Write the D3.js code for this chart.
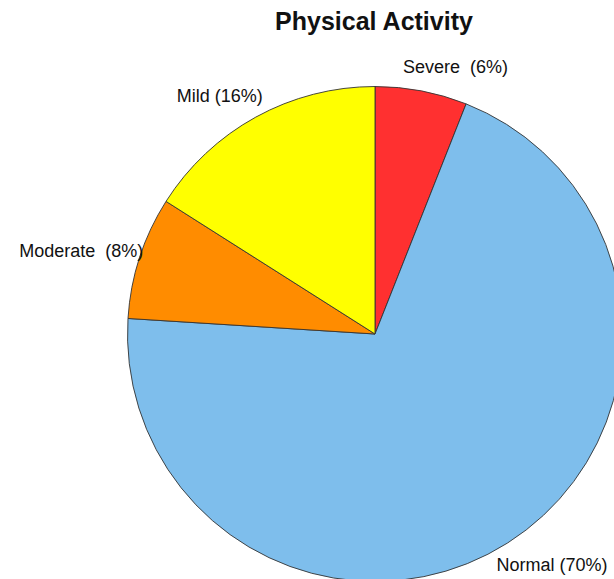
<!DOCTYPE html>
<html>
<head>
<meta charset="utf-8">
<script src="https://cdn.jsdelivr.net/npm/d3@7"></script>
<style>
  html, body { margin: 0; padding: 0; background: #fff; overflow: hidden; }
  svg { display: block; }
  text { font-family: "Liberation Sans", Arial, Helvetica, sans-serif; fill: #111; white-space: pre; }
</style>
</head>
<body>
<svg id="chart" width="614" height="579"></svg>
<script>
// Physical activity levels, clockwise from 12 o'clock
const categories = ["Severe", "Normal", "Moderate", "Mild"];
const percents   = [6, 70, 8, 16];
const labels     = ["Severe  (6%)", "Normal (70%)", "Moderate  (8%)", "Mild (16%)"];
const colors     = ["#ff3030", "#7ebeec", "#ff8c00", "#ffff00"];
const title      = "Physical Activity";

const width = 614, height = 579;
const cx = 375, cy = 334, radius = 247.5;

const svg = d3.select("#chart");

svg.append("text")
  .attr("x", 374)
  .attr("y", 30)
  .attr("text-anchor", "middle")
  .style("font-size", "25px")
  .style("font-weight", "bold")
  .text(title);

const data = categories.map((c, i) => ({ name: c, value: percents[i], label: labels[i], color: colors[i] }));

const pie = d3.pie()
  .value(d => d.value)
  .sort(null)
  .startAngle(0)
  .endAngle(2 * Math.PI);

const arc = d3.arc().innerRadius(0).outerRadius(radius);

const g = svg.append("g").attr("transform", `translate(${cx},${cy})`);
const arcs = pie(data);

g.selectAll("path.slice")
  .data(arcs)
  .join("path")
  .attr("class", "slice")
  .attr("d", arc)
  .attr("fill", d => d.data.color)
  .attr("stroke", "#333")
  .attr("stroke-width", 0.9);

// Labels sit just outside the rim at each slice's mid-angle,
// pulled slightly inward horizontally.
const labelFactor = 1.1;
g.selectAll("text.lbl")
  .data(arcs)
  .join("text")
  .attr("class", "lbl")
  .attr("xml:space", "preserve")
  .style("font-size", "18px")
  .attr("dy", "0.38em")
  .text(d => d.data.label)
  .each(function(d) {
    const a = (d.startAngle + d.endAngle) / 2;
    const sx = Math.sin(a), cyy = -Math.cos(a);
    const w = this.getComputedTextLength();
    const px = labelFactor * radius * sx;
    const py = labelFactor * radius * cyy;
    const right = sx > 0;
    d3.select(this)
      .attr("text-anchor", right ? "start" : "end")
      .attr("x", px + (right ? -0.22 * w : 0.22 * w))
      .attr("y", py);
  });
</script>
</body>
</html>
